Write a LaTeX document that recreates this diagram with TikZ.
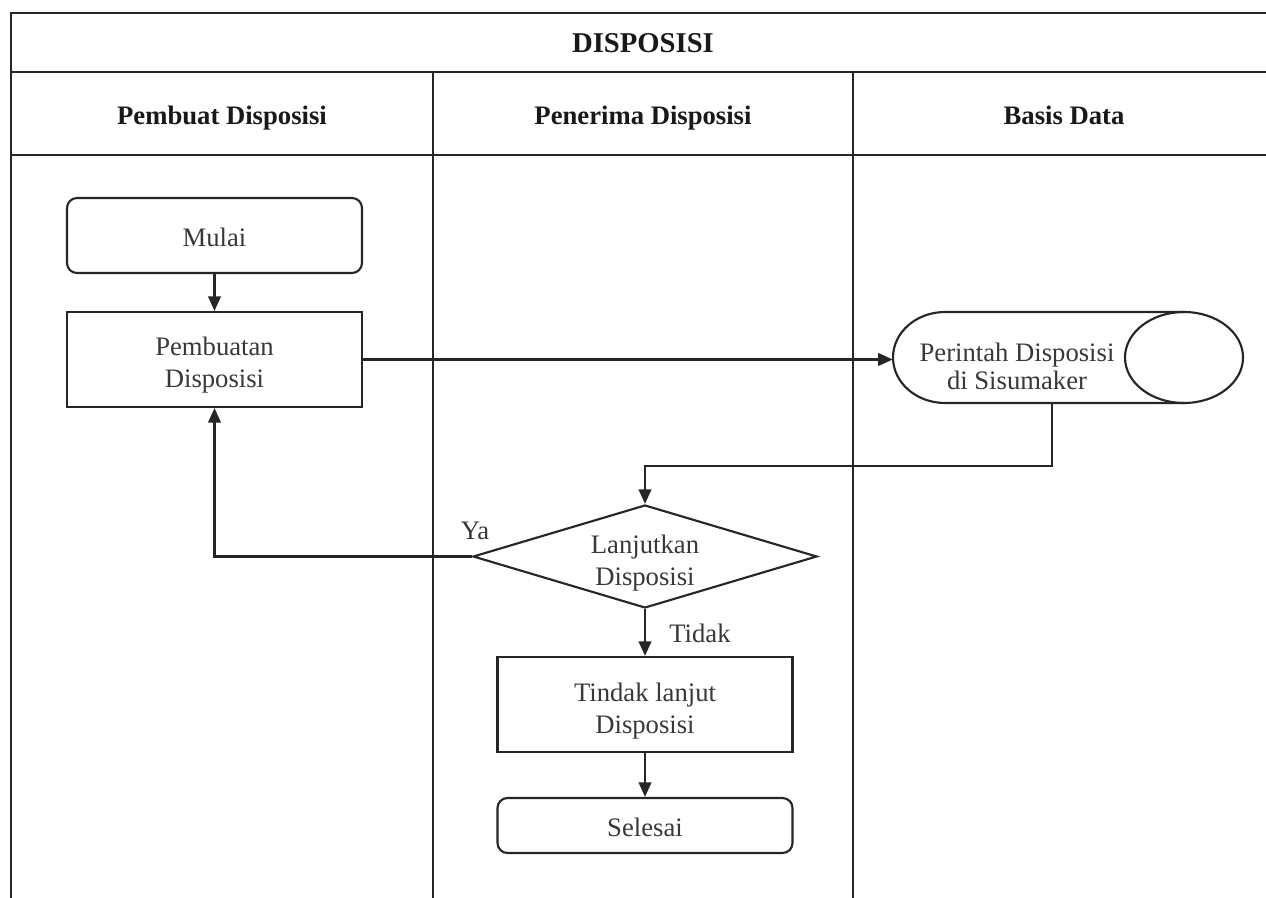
\documentclass[tikz,border=0pt]{standalone}
\usepackage{fontspec}
\setmainfont{Liberation Serif}
\usetikzlibrary{shapes.geometric,arrows.meta,calc}
\begin{document}
\begin{tikzpicture}[x=0.75pt,y=-0.75pt,
  line/.style={line width=1.6pt, draw=black!85},
  arr/.style={line, -{Triangle[length=11pt,width=9.5pt]}},
  txt/.style={font=\fontsize{20}{24}\selectfont, text=black!78, align=center},
  head/.style={font=\bfseries\fontsize{20}{24}\selectfont, text=black!90, anchor=base},
  proc/.style={line, rectangle, minimum width=221.25pt, minimum height=71.25pt, inner sep=0pt},
  term/.style={line, rectangle, rounded corners=7.5pt, minimum width=221.25pt, inner sep=0pt},
  decision/.style={line, diamond, shape aspect=3.34, minimum width=258pt, minimum height=77.25pt, inner sep=0pt},
  lbl/.style={font=\fontsize{20}{24}\selectfont, text=black!78}]

% page
\clip (0,0) rectangle (1266,898);
\fill[white] (0,0) rectangle (1266,898);

% swimlane frame
\draw[line] (11,898) -- (11,13) -- (1280,13);
\draw[line] (11,72) -- (1280,72);
\draw[line] (11,155) -- (1280,155);
\draw[line] (433,72) -- (433,898);
\draw[line] (853,72) -- (853,898);

\node[font=\bfseries\fontsize{21.5}{24}\selectfont, text=black!90, anchor=base] (title) at (643,53) {DISPOSISI};
\node[head] (laneA) at (222,125) {Pembuat Disposisi};
\node[head] (laneB) at (643,125) {Penerima Disposisi};
\node[head] (laneC) at (1064,125) {Basis Data};

% process nodes
\node[term, minimum height=56.25pt] (mulai) at (214.5,235.5) {};
\node[txt] (mulaitxt) at (214.5,237.5) {Mulai};
\node[proc] (pemb) at (214.5,359.5) {};
\node[txt] (pembtxt) at (214.5,365) {Pembuatan\\Disposisi};
\node[decision] (dec) at (645,556.5) {};
\node[txt] (dectxt) at (645,563) {Lanjutkan\\Disposisi};
\node[proc] (tindak) at (645,704.5) {};
\node[txt] (tindaktxt) at (645,711) {Tindak lanjut\\Disposisi};
\node[term, minimum height=41.25pt] (selesai) at (645,825.5) {};
\node[txt] (selesaitxt) at (645,827.5) {Selesai};

% stored data (horizontal drum)
\node[minimum width=262.5pt, minimum height=68.25pt, inner sep=0pt] (db) at (1068,357.5) {};
\draw[line] (945,312) -- (1184,312)
  (945,403) -- (1184,403)
  (945,312) arc[start angle=270, end angle=90, x radius=52, y radius=45.5];
\draw[line] (1184,357.5) ellipse[x radius=59, y radius=45.5];
\node[txt, font=\fontsize{20}{21}\selectfont] (dbtext) at (1017,366) {Perintah Disposisi\\di Sisumaker};

% connectors
\draw[arr] (mulai) -- (pemb);
\draw[arr] (pemb.east) -- (pemb.east -| db.west);
\draw[arr] ($(db.south west)+(159,0)$) -- ++(0,63) -| (dec.north);
\draw[arr] (dec.west) -| (pemb.south);
\draw[arr] (dec.south) -- (tindak.north);
\draw[arr] (tindak) -- (selesai);

\node[lbl] (ya) at (475,531) {Ya};
\node[lbl] (tidak) at (700,633) {Tidak};
\end{tikzpicture}
\end{document}
